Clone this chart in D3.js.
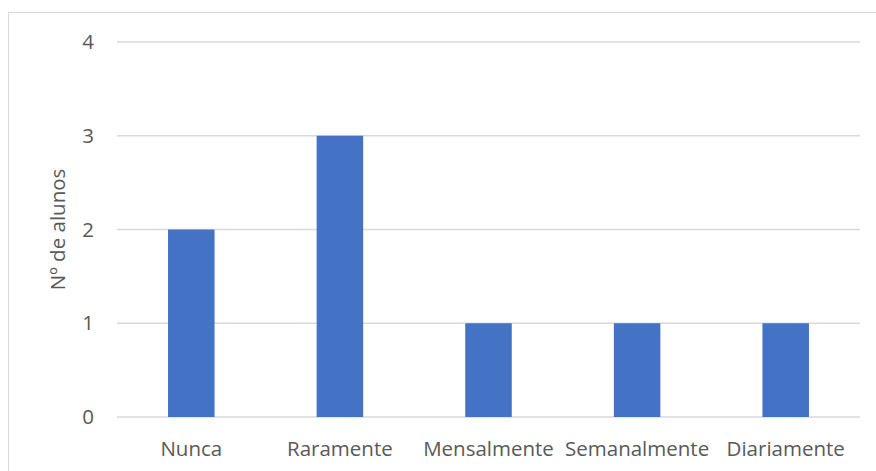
<!DOCTYPE html>
<html>
<head>
<meta charset="utf-8">
<script src="https://cdn.jsdelivr.net/npm/d3@7"></script>
<style>
  html, body { margin: 0; padding: 0; background: #fff; }
  svg { display: block; font-family: "Open Sans", "Noto Sans", sans-serif; }
</style>
</head>
<body>
<svg id="chart" width="876" height="471"></svg>
<script>
// Frequência de uso — número de alunos por categoria
const categories = ["Nunca", "Raramente", "Mensalmente", "Semanalmente", "Diariamente"];
const values = [2, 3, 1, 1, 1];
const yTicks = [0, 1, 2, 3, 4];
const yTitle = "Nº de alunos";

const svg = d3.select("#chart");
const W = 876, H = 471;
const plot = { left: 117, right: 860, top: 42, bottom: 417 };
const fontSize = 20.5;

// Chart area frame
svg.append("rect")
  .attr("x", 8.5).attr("y", 12.5)
  .attr("width", W + 20).attr("height", H + 20)
  .attr("fill", "#fff")
  .attr("stroke", "#d9d9d9")
  .attr("stroke-width", 1);

const x = d3.scaleBand()
  .domain(categories)
  .range([plot.left, plot.right])
  .paddingInner(0.687)
  .paddingOuter(0.3435);

const y = d3.scaleLinear()
  .domain([0, 4])
  .range([plot.bottom, plot.top]);

// Gridlines
svg.append("g")
  .selectAll("line")
  .data(yTicks)
  .join("line")
  .attr("x1", plot.left).attr("x2", plot.right)
  .attr("y1", d => y(d)).attr("y2", d => y(d))
  .attr("stroke", "#d9d9d9")
  .attr("stroke-width", 1.3);

// Y tick labels
svg.append("g")
  .selectAll("text")
  .data(yTicks)
  .join("text")
  .attr("x", 94)
  .attr("y", d => y(d))
  .attr("dy", "0.35em")
  .attr("text-anchor", "end")
  .attr("font-size", fontSize)
  .attr("fill", "#595959")
  .text(d => d);

// Bars
svg.append("g")
  .selectAll("rect")
  .data(categories)
  .join("rect")
  .attr("x", d => x(d))
  .attr("width", x.bandwidth())
  .attr("y", (d, i) => y(values[i]))
  .attr("height", (d, i) => y(0) - y(values[i]))
  .attr("fill", "#4472c4");

// Category labels
svg.append("g")
  .selectAll("text")
  .data(categories)
  .join("text")
  .attr("x", d => x(d) + x.bandwidth() / 2)
  .attr("y", 456)
  .attr("text-anchor", "middle")
  .attr("font-size", fontSize)
  .attr("fill", "#595959")
  .text(d => d);

// Y axis title
svg.append("text")
  .attr("transform", `translate(65,${(plot.top + plot.bottom) / 2}) rotate(-90)`)
  .attr("text-anchor", "middle")
  .attr("font-size", fontSize)
  .attr("fill", "#595959")
  .text(yTitle);
</script>
</body>
</html>
